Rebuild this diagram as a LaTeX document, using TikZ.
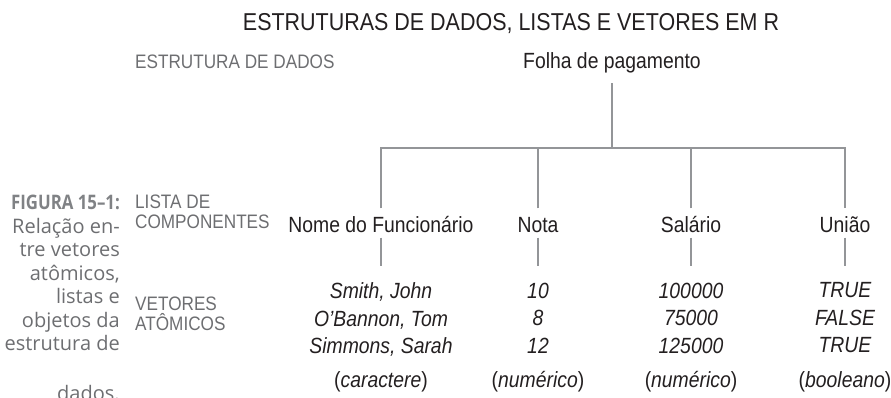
\documentclass[tikz,border=0pt]{standalone}
\usepackage{fontspec}
\setmainfont{Liberation Sans}[FakeStretch=0.88]
\newfontfamily\captionfont{Open Sans}
\newfontfamily\figfont{Open Sans}[FakeStretch=0.84]
\usetikzlibrary{positioning}
\definecolor{ink}{HTML}{231F20}
\definecolor{labelgray}{HTML}{6D6E71}
\definecolor{linegray}{HTML}{939598}
\definecolor{figgray}{HTML}{808285}
\tikzstyle{title-text} = [text=ink, inner sep=0pt, anchor=base,
    font=\fontsize{24.4}{28}\selectfont]
\tikzstyle{level-label} = [text=labelgray, inner sep=0pt, align=left,
    font=\fontsize{19.5}{20}\selectfont]
\tikzstyle{item-node} = [text=ink, inner sep=0pt, text height=24pt,
    text depth=5pt, font=\fontsize{22}{24}\selectfont]
\tikzstyle{atom-box} = [text=ink, inner xsep=0pt, inner ysep=16.5pt,
    anchor=north, align=center, font=\fontsize{22}{27.5}\selectfont\itshape]
\tikzstyle{type-label} = [text=ink, inner sep=0pt, anchor=base,
    font=\fontsize{22}{24}\selectfont]
\tikzstyle{tree-line} = [draw=linegray, line width=2.4pt]
\newcommand{\tipo}[1]{(\textit{#1})}

\begin{document}
\begin{tikzpicture}[x=1pt, y=-1pt]
\useasboundingbox (0,0) rectangle (891,397);

\node[title-text] (title) at (511,30.3) {ESTRUTURAS DE DADOS, LISTAS E VETORES EM R};

% level labels
\node[level-label, anchor=base west] (lbl-data) at (135,68) {ESTRUTURA DE DADOS};
\node[level-label, anchor=north west] (lbl-list) at (135,195) {LISTA DE\\COMPONENTES};
\node[level-label, anchor=north west] (lbl-atom) at (135,297) {VETORES\\ATÔMICOS};

% caption
\node[text=labelgray, inner sep=0pt, anchor=north east, align=right,
    font=\captionfont\fontsize{20}{23.5}\selectfont] (caption) at (120,195)
    {\textcolor{figgray}{\figfont\bfseries FIGURA 15–1:}\\Relação en-\\tre vetores\\atômicos,\\listas e\\objetos da\\estrutura de\\[26pt]dados.};

% tree
\node[item-node, anchor=base, text depth=15pt] (folha) at (612,68) {Folha de pagamento};
\coordinate (bar) at (612,148);

\node[item-node, anchor=base] (nome) at (381,232.5) {Nome do Funcionário};
\node[item-node, anchor=base] (nota) at (538,232.5) {Nota};
\node[item-node, anchor=base] (salario) at (691,232.5) {Salário};
\node[item-node, anchor=base] (uniao) at (845,232.5) {União};

\node[atom-box] (nome-vals) at (381,266) {Smith, John\\O’Bannon, Tom\\Simmons, Sarah};
\node[atom-box] (nota-vals) at (538,266) {10\\8\\12};
\node[atom-box] (salario-vals) at (691,266) {100000\\75000\\125000};
\node[atom-box] (uniao-vals) at (845,266) {TRUE\\FALSE\\TRUE};

\node[type-label] (nome-type) at (381,387.5) {\tipo{caractere}};
\node[type-label] (nota-type) at (538,387.5) {\tipo{numérico}};
\node[type-label] (salario-type) at (691,387.5) {\tipo{numérico}};
\node[type-label] (uniao-type) at (845,387.5) {\tipo{booleano}};

\draw[tree-line] (folha.south) -- (bar);
\draw[tree-line] (nome.north) |- (uniao.north |- bar) -- (uniao.north);
\draw[tree-line] (nota.north) -- (nota.north |- bar);
\draw[tree-line] (salario.north) -- (salario.north |- bar);
\foreach \n in {nome,nota,salario,uniao}
    \draw[tree-line] (\n.south) -- (\n-vals.north);
\end{tikzpicture}
\end{document}
